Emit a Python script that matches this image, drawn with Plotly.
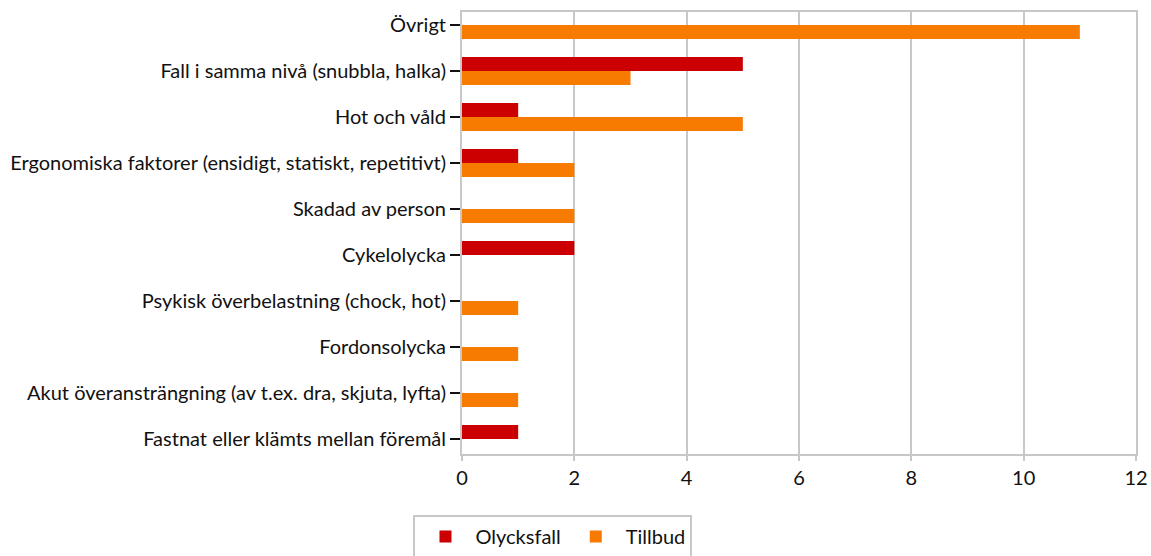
import plotly.graph_objects as go

categories = [
    "Övrigt",
    "Fall i samma nivå (snubbla, halka)",
    "Hot och våld",
    "Ergonomiska faktorer (ensidigt, statiskt, repetitivt)",
    "Skadad av person",
    "Cykelolycka",
    "Psykisk överbelastning (chock, hot)",
    "Fordonsolycka",
    "Akut överansträngning (av t.ex. dra, skjuta, lyfta)",
    "Fastnat eller klämts mellan föremål",
]
olycksfall = [0, 5, 1, 1, 0, 2, 0, 0, 0, 1]
tillbud = [11, 3, 5, 2, 2, 0, 1, 1, 1, 0]
x_ticks = [0, 2, 4, 6, 8, 10, 12]

FONT = "Lato"
FS = 20

fig = go.Figure()
fig.add_trace(go.Bar(y=categories, x=olycksfall, name="Olycksfall", orientation="h",
                     marker=dict(color="#CC0000", line=dict(width=0))))
fig.add_trace(go.Bar(y=categories, x=tillbud, name="Tillbud", orientation="h",
                     marker=dict(color="#F77B00", line=dict(width=0))))

fig.update_layout(
    width=1151, height=556,
    margin=dict(l=462, r=15, t=12, b=102, autoexpand=False),
    barmode="group", bargap=0.39, bargroupgap=0,
    plot_bgcolor="white", paper_bgcolor="white",
    font=dict(family=FONT, size=FS, color="#111111"),
    showlegend=True,
    legend=dict(orientation="h", x=0.135, xanchor="center", y=-0.138, yanchor="top",
                bordercolor="#C8C8C8", borderwidth=2, font=dict(size=FS),
                itemsizing="constant", itemwidth=50, tracegroupgap=0),
)
fig.update_xaxes(range=[0, 12], tickvals=x_ticks, showgrid=True, gridcolor="#C8C8C8", gridwidth=2,
                 showline=True, linecolor="#C8C8C8", linewidth=2, mirror=True,
                 ticks="outside", tickcolor="#C8C8C8", ticklen=5, tickwidth=2,
                 zeroline=False, tickfont=dict(size=FS), automargin=False)
fig.update_yaxes(type="category", range=[9.326, -0.283], showline=True, linecolor="#C8C8C8",
                 linewidth=2, mirror=True,
                 ticks="outside", tickcolor="#111111", ticklen=10, tickwidth=2,
                 showgrid=False, tickfont=dict(size=FS), automargin=False)

fig.write_html(
    "out.html",
    config={"displayModeBar": False},
    post_script="document.body.style.margin='0';document.body.style.overflow='hidden';",
)
